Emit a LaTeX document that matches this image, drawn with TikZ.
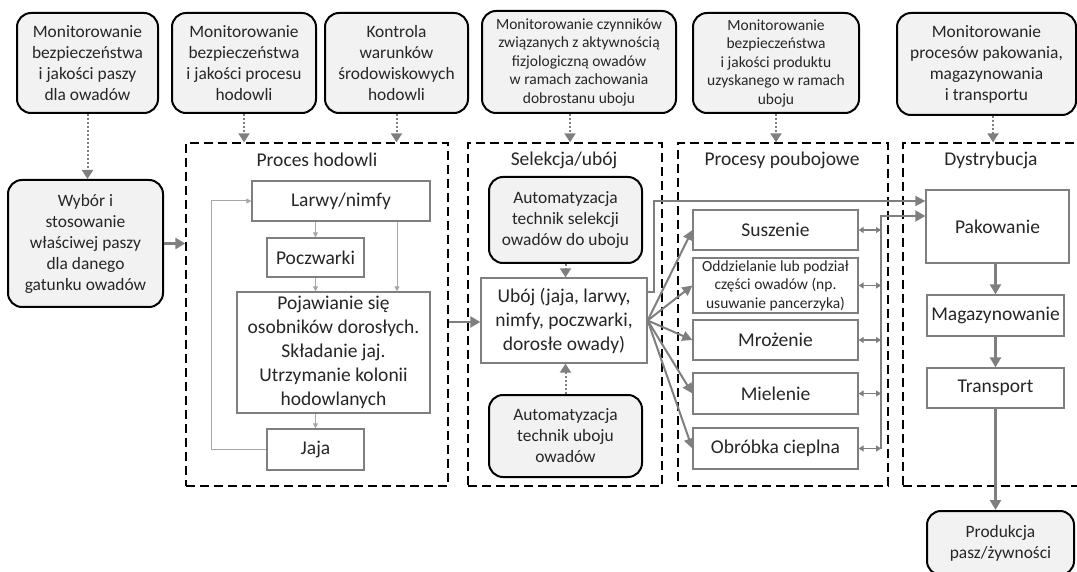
\documentclass[tikz,border=0pt]{standalone}
\usepackage{fontspec}
\setmainfont{Carlito}
\usetikzlibrary{arrows.meta,calc}
\definecolor{linegray}{HTML}{7F7F7F}
\definecolor{thingray}{HTML}{A6A6A6}
\definecolor{boxfill}{HTML}{F2F2F2}
\definecolor{txt}{HTML}{262626}

\begin{document}
\begin{tikzpicture}[x=1pt,y=-1pt,
  every node/.style={text=txt, align=center, inner sep=0pt},
  monbox/.style={draw=black, line width=2pt, rounded corners=14pt, fill=boxfill},
  stagebox/.style={draw=linegray, line width=1.3pt, fill=white},
  group/.style={draw=black, line width=1.4pt, dash pattern=on 9pt off 5pt},
  fsmall/.style={font=\fontsize{15.5}{18.5}\selectfont},
  fmid/.style={font=\fontsize{17.4}{21}\selectfont},
  fbig/.style={font=\fontsize{19.5}{24}\selectfont},
  flow/.style={draw=linegray, line width=2.4pt, -{Triangle[length=10pt,width=11pt]}},
  fan/.style={draw=linegray, line width=2pt, -{Triangle[length=10pt,width=10pt]}},
  watch/.style={draw=linegray, line width=2pt, dash pattern=on 2pt off 2pt,
    -{Triangle[length=9pt,width=11pt]}},
  cycle/.style={draw=thingray, line width=1pt, -{Triangle[length=5pt,width=5pt]}},
  link/.style={draw=linegray, line width=1.5pt,
    {Triangle[length=5pt,width=6pt]}-{Triangle[length=5pt,width=6pt]}}
]
\useasboundingbox (0,0) rectangle (1077,572);
\clip (0,0) rectangle (1077,572);

% monitoring boxes along the top
\node[monbox, fmid, minimum width=141, minimum height=100] (t1) at (87.5,63)
  {Monitorowanie\\bezpieczeństwa\\i jakości paszy\\dla owadów};
\node[monbox, fmid, minimum width=144, minimum height=100] (t2) at (244,63)
  {Monitorowanie\\bezpieczeństwa\\i jakości procesu\\hodowli};
\node[monbox, fmid, minimum width=143, minimum height=100] (t3) at (396.5,63)
  {Kontrola\\warunków\\środowiskowych\\hodowli};
\node[monbox, fsmall, minimum width=194, minimum height=102] (t4) at (579,62)
  {Monitorowanie czynników\\związanych z aktywnością\\fizjologiczną owadów\\w ramach zachowania\\dobrostanu uboju};
\node[monbox, fsmall, minimum width=166, minimum height=100] (t5) at (776,63)
  {Monitorowanie\\bezpieczeństwa\\i jakości produktu\\uzyskanego w ramach\\uboju};
\node[monbox, fmid, minimum width=179, minimum height=102] (t6) at (986.5,64)
  {Monitorowanie\\procesów  pakowania,\\magazynowania\\i transportu};

% feed selection
\node[monbox, fmid, minimum width=155, minimum height=127] (feed) at (85.5,243.5)
  {Wybór i\\stosowanie\\właściwej  paszy\\dla danego\\gatunku owadów};

% dashed stage groups
\node[group, minimum width=262, minimum height=343] (g1) at (317,314.5) {};
\node[group, minimum width=194, minimum height=343] (g2) at (565,314.5) {};
\node[group, minimum width=210, minimum height=343] (g3) at (783,314.5) {};
\node[group, minimum width=187, minimum height=343] (g4) at (996.5,314.5) {};
\node[fbig] (g1t) at (317,160) {Proces hodowli};
\node[fbig] (g2t) at (564,160) {Selekcja/ubój};
\node[fbig] (g3t) at (782,160) {Procesy poubojowe};
\node[fbig] (g4t) at (991,160) {Dystrybucja};

% rearing cycle
\node[stagebox, fbig, minimum width=178, minimum height=40] (larvae) at (341,201) {Larwy/nimfy};
\node[stagebox, fbig, minimum width=97, minimum height=39] (pupae) at (315.5,257.5) {Poczwarki};
\node[stagebox, fbig, minimum width=193, minimum height=121] (adults) at (333.5,352.5)
  {Pojawianie się\\osobników  dorosłych.\\Składanie jaj.\\Utrzymanie kolonii\\hodowlanych};
\node[stagebox, fbig, minimum width=97, minimum height=41] (eggs) at (315.5,449.5) {Jaja};

% selection / slaughter
\node[monbox, fmid, minimum width=153, minimum height=86] (autosel) at (565.5,220)
  {Automatyzacja\\technik selekcji\\owadów do uboju};
\node[stagebox, fbig, minimum width=166, minimum height=85] (slaughter) at (564,320.5)
  {Ubój (jaja, larwy,\\nimfy, poczwarki,\\dorosłe owady)};
\node[monbox, fmid, minimum width=153, minimum height=82] (autokill) at (565.5,436)
  {Automatyzacja\\technik uboju\\owadów};

% post-slaughter processing
\node[stagebox, fbig, minimum width=165, minimum height=40] (dry) at (775.5,230) {Suszenie};
\node[stagebox, fsmall, minimum width=165, minimum height=55] (split) at (775.5,285.5)
  {Oddzielanie lub podział\\części owadów (np.\\usuwanie pancerzyka)};
\node[stagebox, fbig, minimum width=165, minimum height=40] (freeze) at (775.5,340) {Mrożenie};
\node[stagebox, fbig, minimum width=165, minimum height=41] (grind) at (775.5,393.5) {Mielenie};
\node[stagebox, fbig, minimum width=165, minimum height=41] (heat) at (775.5,448.5) {Obróbka cieplna};

% distribution
\node[stagebox, fbig, minimum width=143, minimum height=73] (pack) at (997.5,226.5) {Pakowanie};
\node[stagebox, fbig, minimum width=137, minimum height=41] (store) at (995.5,315.5) {Magazynowanie};
\node[stagebox, fbig, minimum width=137, minimum height=40] (ship) at (995.5,388) {Transport};
\node[monbox, fmid, minimum width=147, minimum height=64] (prod) at (1000.5,543)
  {Produkcja\\pasz/żywności};

% monitoring links
\draw[watch] (t1.south) -- (t1.south |- feed.north);
\draw[watch] (t2.south) -- (t2.south |- g1.north);
\draw[watch] (t3.south) -- (t3.south |- g1.north);
\draw[watch] ([xshift=-9pt]t4.south) -- ([xshift=-9pt]t4.south |- g2.north);
\draw[watch] (t5.south) -- (t5.south |- g3.north);
\draw[watch] ([xshift=6.5pt]t6.south) -- ([xshift=6.5pt]t6.south |- g4.north);
\draw[watch] (autosel.south) -- (autosel.south |- slaughter.north);
\draw[watch] (autokill.north) -- (autokill.north |- slaughter.south);

% main flow
\draw[flow] (feed.east) -- (feed.east -| g1.west);
\draw[flow] ([yshift=-1.5pt]slaughter.west -| g1.east) -- ([yshift=-1.5pt]slaughter.west);

% rearing cycle arrows
\draw[cycle] (larvae.south -| pupae.north) -- (pupae.north);
\draw[cycle] (pupae.south) -- (pupae.south |- adults.north);
\draw[cycle] ([xshift=56pt]larvae.south) -- ([xshift=56pt]larvae.south |- adults.north);
\draw[cycle] (adults.south -| eggs.north) -- (eggs.north);
\draw[cycle] (eggs.west) -- ++(-55,0) |- (larvae.west);

% slaughter to processing
\draw[fan] (slaughter.east) -- (dry.west);
\draw[fan] (slaughter.east) -- (split.west);
\draw[fan] (slaughter.east) -- (freeze.west);
\draw[fan] (slaughter.east) -- (grind.west);
\draw[fan] (slaughter.east) -- (heat.west);
\draw[fan] ([yshift=28.5pt]slaughter.east) -- ++(6,0) |- ([yshift=25.5pt]pack.west);

% processing bus to packing
\coordinate (bus) at (881,216);
\draw[link] (dry.east) -- (dry.east -| bus);
\draw[link] (split.east) -- (split.east -| bus);
\draw[link] (freeze.east) -- (freeze.east -| bus);
\draw[link] (grind.east) -- (grind.east -| bus);
\draw[link] (heat.east) -- (heat.east -| bus);
\draw[flow, line width=2pt] (heat.east -| bus) -- (bus) -- ([yshift=10.5pt]pack.west);

% distribution chain
\draw[flow] (pack.south -| store.north) -- (store.north);
\draw[flow] (store.south) -- (ship.north);
\draw[flow] (ship.south) -- (ship.south |- prod.north);
\end{tikzpicture}
\end{document}
